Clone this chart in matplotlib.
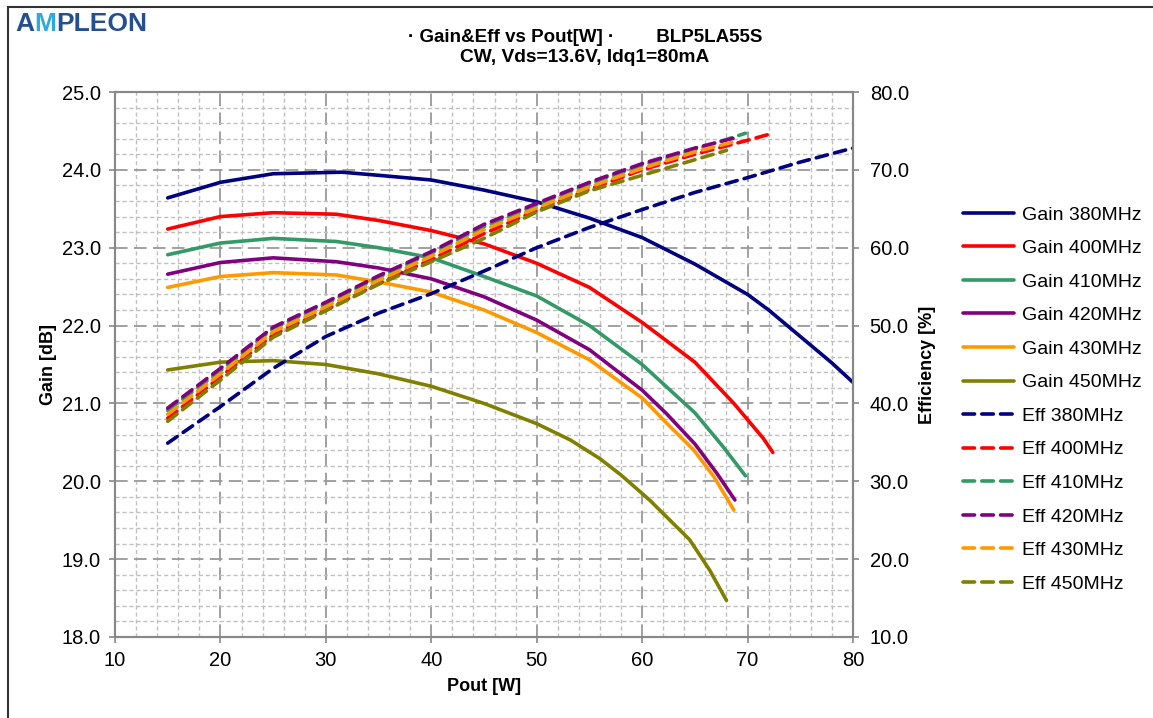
import matplotlib
matplotlib.use('Agg')
import matplotlib.pyplot as plt
from matplotlib.ticker import MultipleLocator, FormatStrFormatter
from matplotlib.lines import Line2D

plt.rcParams['font.family'] = ['Liberation Sans', 'DejaVu Sans']

# ---------------- data ----------------
freqs = ['380MHz', '400MHz', '410MHz', '420MHz', '430MHz', '450MHz']
colors = ['#000080', '#FF0000', '#339966', '#800080', '#FF9900', '#808000']

gain380_x = [15, 20, 25, 31.5, 35, 40, 45, 50, 55, 60, 65, 70, 72, 75, 78, 80]
gain380_y = [23.64, 23.84, 23.95, 23.97, 23.93, 23.87, 23.74, 23.59, 23.38, 23.13, 22.79, 22.40, 22.20, 21.86, 21.52, 21.27]

gain400_x = [15, 20, 25, 31, 35, 40, 45, 50, 55, 60, 65, 68.7, 71.5, 72.4]
gain400_y = [23.24, 23.40, 23.45, 23.43, 23.35, 23.22, 23.05, 22.80, 22.49, 22.04, 21.53, 21.00, 20.55, 20.37]

gain410_x = [15, 20, 25, 31, 35, 40, 45, 50, 55, 60, 65, 67.7, 69.8]
gain410_y = [22.91, 23.06, 23.12, 23.08, 23.00, 22.87, 22.63, 22.38, 22.00, 21.50, 20.88, 20.44, 20.07]

gain420_x = [15, 20, 25, 31, 35, 40, 45, 50, 55, 60, 62.3, 65, 67.1, 68.8]
gain420_y = [22.66, 22.81, 22.87, 22.82, 22.74, 22.60, 22.37, 22.07, 21.69, 21.17, 20.87, 20.48, 20.10, 19.76]

gain430_x = [15, 20, 25, 31, 35, 40, 45, 50, 55, 60, 62.3, 64.9, 66.8, 68.7]
gain430_y = [22.49, 22.63, 22.68, 22.65, 22.56, 22.43, 22.20, 21.91, 21.56, 21.07, 20.75, 20.40, 20.06, 19.63]

gain450_x = [15, 20, 25, 30, 35, 40, 45, 50, 53.2, 56, 58, 60.7, 64.5, 66.4, 68]
gain450_y = [21.43, 21.53, 21.55, 21.50, 21.38, 21.22, 21.00, 20.74, 20.53, 20.29, 20.08, 19.76, 19.25, 18.86, 18.47]

eff380_x = [15, 20, 25, 30, 35, 40, 45, 50, 55, 60, 65, 70, 75, 80]
eff380_y = [34.9, 39.6, 44.5, 48.6, 51.6, 54.1, 57.0, 60.0, 62.6, 64.9, 67.1, 69.0, 71.0, 72.8]

eff400_x = [15, 20, 25, 30, 35, 40, 45, 50, 55, 60, 65, 70, 72.4]
eff400_y = [38.1, 43.4, 48.8, 52.0, 55.4, 58.5, 61.8, 64.8, 67.5, 70.0, 72.0, 73.8, 74.7]

eff410_x = [15, 20, 25, 30, 35, 40, 45, 50, 55, 60, 65, 69.8]
eff410_y = [39.1, 44.2, 49.6, 52.8, 56.2, 59.3, 62.7, 65.5, 68.2, 70.6, 72.6, 74.7]

eff420_x = [15, 20, 25, 30, 35, 40, 45, 50, 55, 60, 65, 68.8]
eff420_y = [39.4, 44.5, 49.8, 53.0, 56.4, 59.5, 63.0, 65.7, 68.4, 70.8, 72.8, 74.1]

eff430_x = [15, 20, 25, 30, 35, 40, 45, 50, 55, 60, 65, 68.7]
eff430_y = [38.6, 43.8, 49.2, 52.4, 55.8, 58.9, 62.3, 65.1, 67.8, 70.2, 72.3, 73.6]

eff450_x = [15, 20, 25, 30, 35, 40, 45, 50, 55, 60, 65, 68]
eff450_y = [37.7, 43.0, 48.5, 51.9, 55.3, 58.2, 61.2, 64.6, 67.3, 69.3, 71.3, 72.5]

gain_series = [(gain380_x, gain380_y), (gain400_x, gain400_y), (gain410_x, gain410_y),
               (gain420_x, gain420_y), (gain430_x, gain430_y), (gain450_x, gain450_y)]
eff_series = [(eff380_x, eff380_y), (eff400_x, eff400_y), (eff410_x, eff410_y),
              (eff420_x, eff420_y), (eff430_x, eff430_y), (eff450_x, eff450_y)]

x_ticks = [10, 20, 30, 40, 50, 60, 70, 80]

# ---------------- figure ----------------
W, H = 1153, 718
fig = plt.figure(figsize=(W / 100, H / 100), dpi=100)
fig.patch.set_facecolor('white')

# outer frame (left and top visible)
fig.add_artist(Line2D([8 / W, 8 / W], [0, 1 - 7 / H], color='#333333', lw=1.5, transform=fig.transFigure))
fig.add_artist(Line2D([8 / W, 1], [1 - 7 / H, 1 - 7 / H], color='#333333', lw=1.5, transform=fig.transFigure))

ax = fig.add_axes([115 / W, 1 - 637 / H, 738 / W, 545 / H])
ax2 = ax.twinx()

ax.set_xlim(10, 80)
ax.set_ylim(18, 25)
ax2.set_ylim(10, 80)

ax.xaxis.set_major_locator(MultipleLocator(10))
ax.xaxis.set_minor_locator(MultipleLocator(2))
ax.yaxis.set_major_locator(MultipleLocator(1))
ax.yaxis.set_minor_locator(MultipleLocator(0.2))
ax.yaxis.set_major_formatter(FormatStrFormatter('%.1f'))
ax2.yaxis.set_major_locator(MultipleLocator(10))
ax2.yaxis.set_major_formatter(FormatStrFormatter('%.1f'))
ax.set_xticks(x_ticks)

ax.grid(which='minor', color='#c0c0c0', lw=1.0, ls=(0, (3, 2)))
ax.grid(which='major', color='#999999', lw=1.3, ls=(0, (7, 3.5)))
ax.set_axisbelow(True)

for a in (ax, ax2):
    for s in a.spines.values():
        s.set_color('#888888')
        s.set_linewidth(1.5)
    a.tick_params(which='major', direction='out', length=4, width=1.2, color='#888888',
                  labelsize=14.5, pad=6)
    a.tick_params(which='minor', length=0)

ax.tick_params(axis='x', pad=6)
ax2.tick_params(axis='y', pad=8)

lw = 2.6
handles = []
for (xs, ys), c, f in zip(gain_series, colors, freqs):
    h, = ax.plot(xs, ys, color=c, lw=lw, solid_capstyle='round', label='Gain ' + f)
    handles.append(h)
for (xs, ys), c, f in zip(eff_series, colors, freqs):
    h, = ax2.plot(xs, ys, color=c, lw=lw, ls=(0, (3.2, 2.0)), dash_capstyle='round',
                  label='Eff ' + f)
    handles.append(h)

ax.set_xlabel('Pout [W]', fontsize=13, fontweight='bold', labelpad=6)
ax.set_ylabel('Gain [dB]', fontsize=13, fontweight='bold')
ax2.set_ylabel('Efficiency [%]', fontsize=13, fontweight='bold')
ax.yaxis.set_label_coords(-(115 - 57) / 738, 0.5)
ax2.yaxis.set_label_coords(1 + (919 - 853) / 738, 0.5)

fig.legend(handles, [h.get_label() for h in handles], loc='upper left',
           bbox_to_anchor=(963 / W, 1 - 206 / H), frameon=False, fontsize=14,
           handlelength=2.6, handletextpad=0.45, labelspacing=0.82,
           borderpad=0, borderaxespad=0)

# titles
fig.text(585 / W, 1 - 37 / H, '· Gain&Eff vs Pout[W] ·        BLP5LA55S', ha='center', va='center',
         fontsize=13.5, fontweight='bold')
fig.text(585 / W, 1 - 57 / H, 'CW, Vds=13.6V, Idq1=80mA', ha='center', va='center',
         fontsize=13.8, fontweight='bold')

# logo
renderer = fig.canvas.get_renderer()
xpos = 15
for part, col in [('A', '#24508f'), ('M', '#2fa8e0'), ('PLEON', '#24508f')]:
    t = fig.text(xpos / W, 1 - 24 / H, part, ha='left', va='center', fontsize=19,
                 fontweight='bold', color=col, family=['Liberation Sans', 'DejaVu Sans'])
    bb = t.get_window_extent(renderer)
    xpos += bb.width

fig.savefig('out.png', dpi=100, facecolor='white')
